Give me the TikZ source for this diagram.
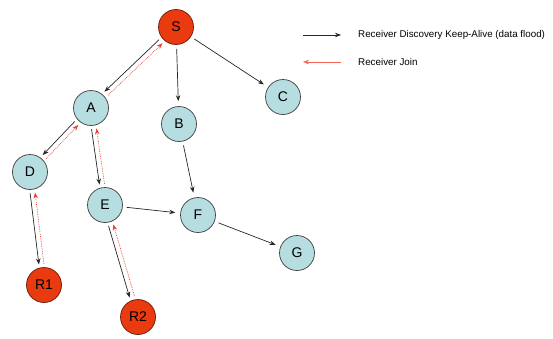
\documentclass[tikz,border=0pt]{standalone}
\usepackage{fontspec}
\setmainfont{Liberation Sans}
\usepackage{xcolor}
\usepackage{tikz}
\usetikzlibrary{arrows.meta,calc}

\definecolor{nodeblue}{RGB}{182,221,223}
\definecolor{rcvred}{RGB}{234,58,16}
\definecolor{joinred}{RGB}{236,64,44}

\begin{document}
\begin{tikzpicture}[x=1pt, y=-1pt,
      router/.style = {circle, draw=black!75, line width=0.7pt, fill=nodeblue, minimum size=35pt, inner sep=0pt, font=\fontsize{14}{14}\selectfont},
      receiver/.style = {router, fill=rcvred, draw=black!55!rcvred},
      flood/.style = {draw=black!85, line width=0.7pt, -{Stealth[length=6pt,width=4.5pt]}},
      joinmsg/.style = {draw=joinred, line width=0.7pt, densely dotted, -{Stealth[length=6pt,width=4.5pt]}},
      legtext/.style = {anchor=west, inner sep=0pt, font=\fontsize{9.8}{12}\selectfont}
    ]
    \useasboundingbox (0,0) rectangle (553,338);
    \node[receiver] (S) at (176,27) {S};
    \node[router] (A) at (91,108) {A};
    \node[router] (B) at (179,124) {B};
    \node[router] (C) at (283,97) {C};
    \node[router] (D) at (30,172) {D};
    \node[router] (E) at (105,205) {E};
    \node[router] (F) at (198,215) {F};
    \node[router] (G) at (297,253) {G};
    \node[receiver] (R1) at (44,285) {R1};
    \node[receiver] (R2) at (138,317) {R2};
    % flood down the tree, join back up
    \foreach \a/\b in {S/A, A/D, A/E, D/R1, E/R2} {
      \draw[flood, shorten <=21pt, shorten >=21pt] ($(\a)!2.5pt!-90:(\b)$) -- ($(\b)!2.5pt!90:(\a)$);
      \draw[joinmsg, shorten <=21pt, shorten >=21pt] ($(\b)!2.5pt!-90:(\a)$) -- ($(\a)!2.5pt!90:(\b)$);
    }
    \foreach \a/\b in {S/B, S/C, B/F, E/F, F/G}
      \draw[flood, shorten <=4pt, shorten >=5pt] (\a) -- (\b);
    % legend
    \coordinate (k1) at (303,35);
    \coordinate (k2) at (341,35);
    \coordinate (k3) at (303,62);
    \coordinate (k4) at (341,62);
    \draw[flood] (k1) -- (k2);
    \draw[draw=joinred!80, line width=0.6pt, -{Stealth[length=6pt,width=4.5pt]}] (k4) -- (k3);
    \node[legtext] (l1) at (358,35) {Receiver Discovery Keep-Alive (data flood)};
    \node[legtext] (l2) at (358,62) {Receiver Join};
  \end{tikzpicture}
\end{document}
